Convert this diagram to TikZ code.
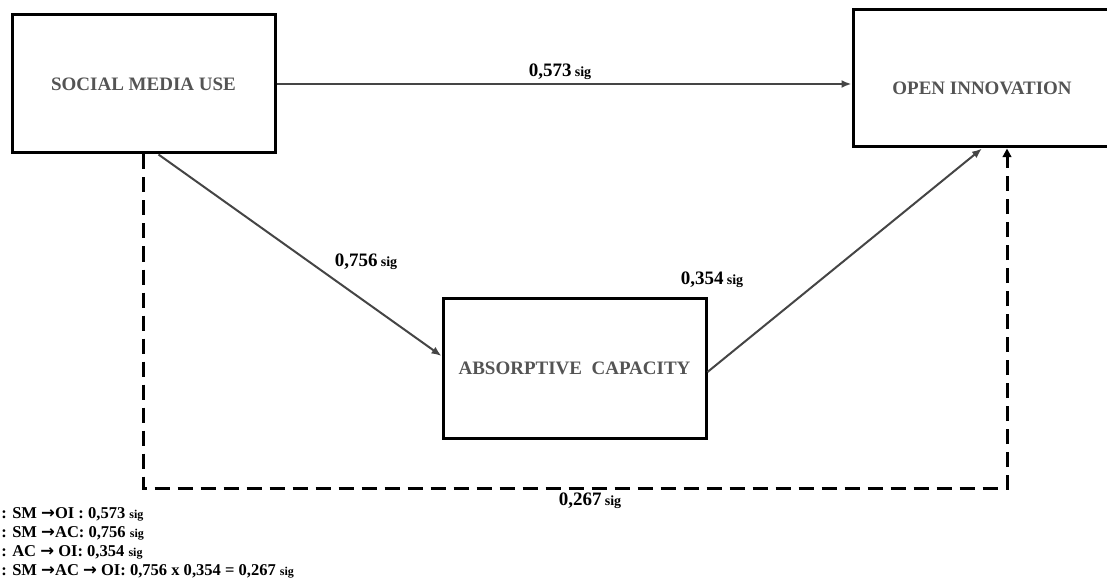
\documentclass[tikz,border=0pt]{standalone}
\usepackage{fontspec}
\setmainfont{Liberation Serif}
\newfontfamily\arrowfont{DejaVu Sans}
\usetikzlibrary{arrows.meta}
\definecolor{boxtext}{gray}{0.33}
\definecolor{linkgray}{gray}{0.27}
\newcommand{\coef}[1]{{\fontsize{14.25}{16}\selectfont #1} {\fontsize{10.5}{12}\selectfont sig}}
\newcommand{\legsig}{{\fontsize{9}{10}\selectfont sig}}
\newcommand{\larr}{{\arrowfont\bfseries →}}
\tikzset{
  box/.style={draw=black, line width=2.25pt, inner sep=0pt, minimum width=197.25pt,
    font=\fontsize{14.25}{16}\selectfont\bfseries, text=boxtext},
  link/.style={draw=linkgray, line width=1.5pt, -{Latex[length=7.5pt,width=6pt]}},
  mediate/.style={draw=black, line width=2.25pt, dash pattern=on 11.25pt off 6pt,
    -{Triangle[length=6.5pt,width=6.5pt]}},
  coeflabel/.style={anchor=base, font=\bfseries, inner sep=0pt},
  legend/.style={anchor=base west, inner sep=0pt, font=\fontsize{12.4}{14}\selectfont\bfseries}
}
\begin{document}
\begin{tikzpicture}[x=0.75pt, y=-0.75pt]
  \useasboundingbox (0,0) rectangle (1107,581);
  \node[box, minimum height=103.5pt] (SM) at (143.5,84) {SOCIAL MEDIA USE};
  \node[box, minimum height=102.75pt, minimum width=193.5pt] (OI) at (982,78.5) {};
  \node[font=\fontsize{14.25}{16}\selectfont\bfseries, text=boxtext, inner sep=0pt] (OItext) at (982,88) {OPEN INNOVATION};
  \node[box, minimum height=105pt] (AC) at (574.5,368) {ABSORPTIVE\ \ CAPACITY};

  \coordinate (SMout) at ([xshift=11.25pt]SM.south);
  \coordinate (ACin) at ([yshift=9pt]AC.west);
  \coordinate (ACout) at ([yshift=-3pt]AC.east);
  \coordinate (OIin) at ([xshift=0pt]OI.south);
  \coordinate (OIdash) at ([xshift=18.75pt]OI.south);

  \draw[link] (SM.east) -- (SM.east -| OI.west);
  \draw[link] (SMout) -- (ACin);
  \draw[link] (ACout) -- (OIin);
  \draw[mediate] (SM.south) -- ++(0,334) -| (OIdash);

  \node[coeflabel] (c1) at (560,77) {\coef{0,573}};
  \node[coeflabel] (c2) at (366,267) {\coef{0,756}};
  \node[coeflabel] (c3) at (712,284) {\coef{0,354}};
  \node[coeflabel] (c4) at (590,505) {\coef{0,267}};

  \node[legend] (l1) at (1,518) {: SM \larr OI : 0,573 \legsig};
  \node[legend] (l2) at (1,537) {: SM \larr AC: 0,756 \legsig};
  \node[legend] (l3) at (1,556) {: AC \larr{} OI: 0,354 \legsig};
  \node[legend] (l4) at (1,575) {: SM \larr AC \larr{} OI: 0,756 x 0,354 = 0,267 \legsig};
\end{tikzpicture}
\end{document}
